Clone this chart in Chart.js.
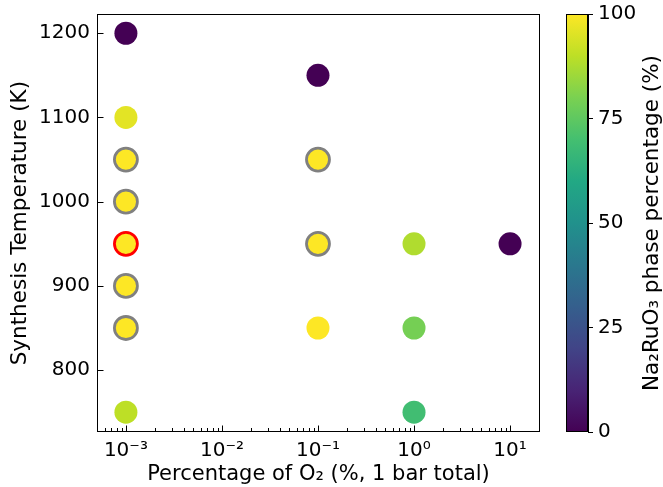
<!DOCTYPE html>
<html><head><meta charset="utf-8">
<script src="https://cdn.jsdelivr.net/npm/chart.js@4/dist/chart.umd.min.js"></script>
<style>
html,body{margin:0;padding:0;background:#fff;}
#wrap{position:relative;width:663px;height:487px;overflow:hidden;}
canvas{position:absolute;top:0;}
</style>
</head><body>
<div id="wrap">
<canvas id="main" width="663" height="487" style="left:0"></canvas>
<canvas id="cbar" width="107" height="487" style="left:556px"></canvas>
</div>
<script>
// ---- data ----
const o2Percent   = [0.001, 0.001, 0.001, 0.001, 0.001, 0.001, 0.001, 0.001, 0.1, 0.1, 0.1, 0.1, 1, 1, 1, 10];
const temperatureK = [1200, 1100, 1050, 1000, 950, 900, 850, 750, 1150, 1050, 950, 850, 950, 850, 750, 950];
const phasePercent = [0, 96, 100, 100, 100, 100, 100, 90, 0, 100, 100, 100, 88, 79, 69, 0];
const edgeKinds    = ['none','none','gray','gray','red','gray','gray','none','none','gray','gray','none','none','none','none','none'];

const xTickValues = [0.001, 0.01, 0.1, 1, 10];
const xTickLabels = ['10\u207B\u00B3', '10\u207B\u00B2', '10\u207B\u00B9', '10\u2070', '10\u00B9'];
const yTickValues = [800, 900, 1000, 1100, 1200];
const yTickLabels = ['800', '900', '1000', '1100', '1200'];
const cbarTickValues = [0, 25, 50, 75, 100];
const cbarTickLabels = ['0', '25', '50', '75', '100'];

const xMin = 0.0005, xMax = 20.5;
const yMin = 726.5, yMax = 1222.5;

const xTitle = 'Percentage of O\u2082 (%, 1 bar total)';
const yTitle = 'Synthesis Temperature (K)';
const cbarTitle = 'Na\u2082RuO\u2083 phase percentage (%)';

// ---- viridis colormap ----
const VIRIDIS = ['#440154','#482475','#414487','#355f8d','#2a788e','#21918c','#22a884','#44bf70','#7ad151','#bddf26','#fde725'];
function hex2rgb(h){return [parseInt(h.slice(1,3),16),parseInt(h.slice(3,5),16),parseInt(h.slice(5,7),16)];}
function viridis(t){
  t = Math.max(0, Math.min(1, t));
  const f = t * (VIRIDIS.length - 1);
  const i = Math.min(Math.floor(f), VIRIDIS.length - 2);
  const r = f - i;
  const a = hex2rgb(VIRIDIS[i]), b = hex2rgb(VIRIDIS[i+1]);
  const c = a.map((v,k)=>Math.round(v + (b[k]-v)*r));
  return 'rgb(' + c.join(',') + ')';
}

const FONT = "'DejaVu Sans', sans-serif";
const TICK_SIZE = 20, TITLE_SIZE = 21.5, XTITLE_SIZE = 21;
Chart.defaults.font.family = FONT;
Chart.defaults.color = '#000';

const fillColors = phasePercent.map(p => viridis(p / 100));
const edgeColors = edgeKinds.map((e, i) => e === 'gray' ? '#808080' : (e === 'red' ? '#ff0000' : fillColors[i]));
const edgeWidths = edgeKinds.map(e => e === 'none' ? 0 : 2.8);

const framePlugin = {
  id: 'frame',
  afterDatasetsDraw(chart) {
    const {ctx, chartArea: a, scales: {x, y}} = chart;
    ctx.save();
    ctx.strokeStyle = '#000';
    ctx.lineWidth = 1;
    const L = Math.round(a.left) + 0.5, R = Math.round(a.right) - 0.5;
    const T = Math.round(a.top) + 0.5, B = Math.round(a.bottom) - 0.5;
    ctx.strokeRect(L, T, R - L, B - T);
    ctx.beginPath();
    x.ticks.forEach(t => {
      const px = Math.round(x.getPixelForValue(t.value)) + 0.5;
      ctx.moveTo(px, B); ctx.lineTo(px, B - 6);
    });
    for (let e = -4; e <= 1; e++) {
      for (let m = 2; m <= 9; m++) {
        const v = m * Math.pow(10, e);
        if (v < x.min || v > x.max) continue;
        const px = Math.round(x.getPixelForValue(v)) + 0.5;
        ctx.moveTo(px, B); ctx.lineTo(px, B - 3.5);
      }
    }
    y.ticks.forEach(t => {
      const py = Math.round(y.getPixelForValue(t.value)) + 0.5;
      ctx.moveTo(L, py); ctx.lineTo(L + 6, py);
    });
    ctx.stroke();
    ctx.restore();
  }
};

new Chart(document.getElementById('main'), {
  type: 'scatter',
  data: {
    datasets: [{
      data: o2Percent.map((v, i) => ({x: v, y: temperatureK[i]})),
      pointRadius: 11.5,
      pointHoverRadius: 11.5,
      pointBackgroundColor: fillColors,
      pointBorderColor: edgeColors,
      pointBorderWidth: edgeWidths,
      showLine: false
    }]
  },
  options: {
    responsive: false, animation: false, events: [], devicePixelRatio: 1,
    layout: {padding: {left: 0, right: 123, top: 14, bottom: 0}},
    plugins: {legend: {display: false}, tooltip: {enabled: false}},
    scales: {
      x: {
        type: 'logarithmic', min: xMin, max: xMax, bounds: 'data',
        afterBuildTicks: s => { s.ticks = xTickValues.map(v => ({value: v})); },
        afterFit: s => { s.height = 55; s.paddingLeft = 0; s.paddingRight = 0; },
        grid: {display: false, drawTicks: false}, border: {display: false},
        ticks: {autoSkip: false, maxRotation: 0, padding: 7, font: {size: TICK_SIZE}, color: '#000',
                callback: (v, i) => xTickLabels[i]},
        title: {display: true, text: xTitle, font: {size: XTITLE_SIZE}, color: '#000', padding: {top: 3, bottom: 0}}
      },
      y: {
        min: yMin, max: yMax,
        afterBuildTicks: s => { s.ticks = yTickValues.map(v => ({value: v})); },
        afterFit: s => { s.width = 97; s.paddingTop = 0; s.paddingBottom = 0; },
        grid: {display: false, drawTicks: false}, border: {display: false},
        ticks: {padding: 7, font: {size: TICK_SIZE}, color: '#000', callback: (v, i) => yTickLabels[i]},
        title: {display: true, text: yTitle, font: {size: TITLE_SIZE}, color: '#000', padding: {top: 8, bottom: 0}}
      }
    }
  },
  plugins: [framePlugin]
});

// ---- colorbar ----
const cbarPlugin = {
  id: 'cbarDeco',
  afterDraw(chart) {
    const {ctx, chartArea: a} = chart;
    ctx.save();
    ctx.strokeStyle = '#000';
    ctx.lineWidth = 1;
    const L = Math.round(a.left) + 0.5, R = Math.round(a.right) - 0.5;
    const T = Math.round(a.top) + 0.5, B = Math.round(a.bottom) - 0.5;
    ctx.strokeRect(L, T, R - L, B - T);
    ctx.translate(96, (a.top + a.bottom) / 2);
    ctx.rotate(-Math.PI / 2);
    ctx.font = TITLE_SIZE + 'px ' + FONT;
    ctx.fillStyle = '#000';
    ctx.textAlign = 'center';
    ctx.textBaseline = 'middle';
    ctx.fillText(cbarTitle, 0, 0);
    ctx.restore();
  }
};

new Chart(document.getElementById('cbar'), {
  type: 'bar',
  data: {
    labels: [''],
    datasets: [{
      data: [[cbarTickValues[0], cbarTickValues[cbarTickValues.length - 1]]],
      backgroundColor: (c) => {
        const ch = c.chart;
        if (!ch.chartArea) return '#888';
        const ys = ch.scales.y;
        const g = ch.ctx.createLinearGradient(0, ys.getPixelForValue(0), 0, ys.getPixelForValue(100));
        VIRIDIS.forEach((col, i) => g.addColorStop(i / (VIRIDIS.length - 1), col));
        return g;
      },
      borderWidth: 0,
      barPercentage: 1,
      categoryPercentage: 1
    }]
  },
  options: {
    responsive: false, animation: false, events: [], devicePixelRatio: 1,
    layout: {padding: {left: 10, right: 0, top: 14, bottom: 55}},
    plugins: {legend: {display: false}, tooltip: {enabled: false}},
    scales: {
      x: {display: false},
      y: {
        position: 'right', min: 0, max: 100,
        afterBuildTicks: s => { s.ticks = cbarTickValues.map(v => ({value: v})); },
        afterFit: s => { s.width = 75; s.paddingTop = 0; s.paddingBottom = 0; },
        grid: {drawOnChartArea: false, drawTicks: true, tickLength: 5, color: '#000', tickWidth: 1},
        border: {display: true, color: '#000'},
        ticks: {padding: 5, font: {size: TICK_SIZE}, color: '#000', callback: (v, i) => cbarTickLabels[i]}
      }
    }
  },
  plugins: [cbarPlugin]
});
</script>
</body></html>
